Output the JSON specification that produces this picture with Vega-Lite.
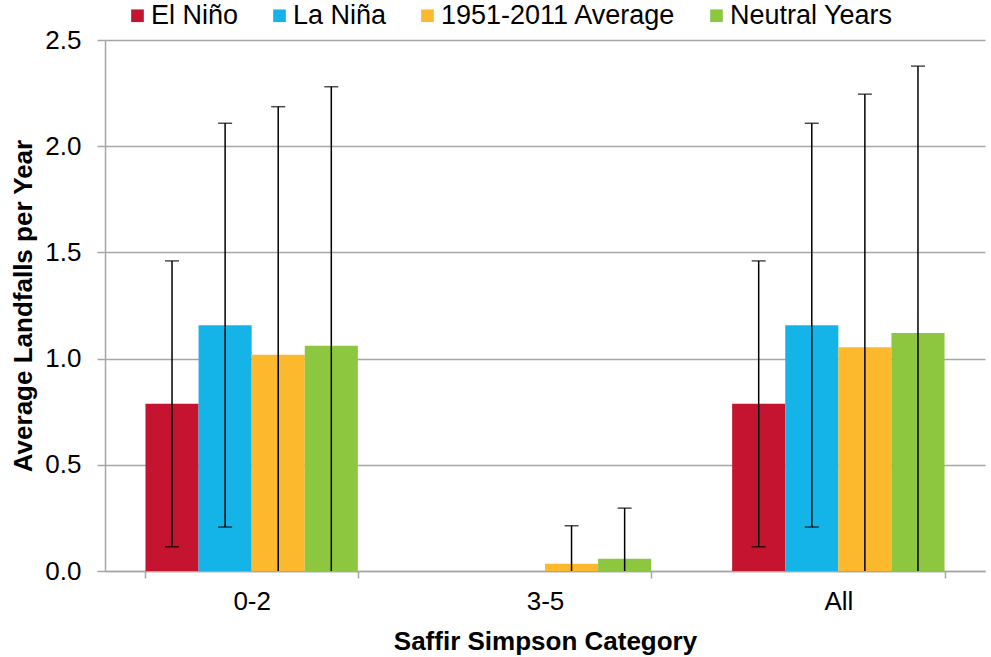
{
  "$schema": "https://vega.github.io/schema/vega-lite/v6.json",
  "width": 880,
  "height": 531,
  "autosize": "none",
  "padding": {"left": 105, "top": 40, "right": 6, "bottom": 86},
  "background": "white",
  "config": {
    "font": "Liberation Sans",
    "view": {"stroke": null},
    "axis": {"labelFont": "Liberation Sans", "titleFont": "Liberation Sans", "labelColor": "#000", "titleColor": "#000", "domainColor": "#A6A6A6", "tickColor": "#A6A6A6", "gridColor": "#A6A6A6", "domainWidth": 1.5, "tickWidth": 1.5, "gridWidth": 1.5}
  },
  "data": {"values": [
    {"cat": "0-2", "series": "El Niño", "value": 0.788, "lo": 0.114, "hi": 1.46},
    {"cat": "0-2", "series": "La Niña", "value": 1.157, "lo": 0.207, "hi": 2.108},
    {"cat": "0-2", "series": "1951-2011 Average", "value": 1.018, "lo": -0.15, "hi": 2.186},
    {"cat": "0-2", "series": "Neutral Years", "value": 1.06, "lo": -0.155, "hi": 2.28},
    {"cat": "3-5", "series": "El Niño", "value": 0, "lo": null, "hi": null},
    {"cat": "3-5", "series": "La Niña", "value": 0, "lo": null, "hi": null},
    {"cat": "3-5", "series": "1951-2011 Average", "value": 0.034, "lo": -0.145, "hi": 0.213},
    {"cat": "3-5", "series": "Neutral Years", "value": 0.058, "lo": -0.18, "hi": 0.296},
    {"cat": "All", "series": "El Niño", "value": 0.788, "lo": 0.114, "hi": 1.46},
    {"cat": "All", "series": "La Niña", "value": 1.157, "lo": 0.207, "hi": 2.108},
    {"cat": "All", "series": "1951-2011 Average", "value": 1.054, "lo": -0.14, "hi": 2.245},
    {"cat": "All", "series": "Neutral Years", "value": 1.12, "lo": -0.14, "hi": 2.377}
  ]},
  "encoding": {
    "x": {"field": "cat", "type": "nominal", "sort": ["0-2", "3-5", "All"],
      "scale": {"paddingInner": 0.276, "paddingOuter": 0.138},
      "axis": {"title": "Saffir Simpson Category", "labelAngle": 0, "labelFontSize": 26, "titleFontSize": 26, "titleFontWeight": "bold", "tickBand": "extent", "tickSize": 7, "labelPadding": 10, "titlePadding": 14, "grid": false}},
    "xOffset": {"field": "series", "type": "nominal", "sort": ["El Niño", "La Niña", "1951-2011 Average", "Neutral Years"], "scale": {"paddingInner": 0, "paddingOuter": 0}}
  },
  "layer": [
    {
      "mark": {"type": "bar"},
      "encoding": {
        "y": {"field": "value", "type": "quantitative",
          "scale": {"domain": [0, 2.5], "nice": false},
          "axis": {"title": "Average Landfalls per Year", "values": [0, 0.5, 1, 1.5, 2, 2.5], "format": ".1f", "labelFontSize": 26, "titleFontSize": 26, "titleFontWeight": "bold", "tickSize": 8, "labelPadding": 16, "titlePadding": 8, "grid": true}},
        "color": {"field": "series", "type": "nominal",
          "scale": {"domain": ["El Niño", "La Niña", "1951-2011 Average", "Neutral Years"], "range": ["#C41430", "#14B4E8", "#FDB92E", "#8DC63F"]},
          "legend": {"title": null, "orient": "none", "legendX": 19, "legendY": -38, "direction": "horizontal", "symbolType": "square", "symbolSize": 160, "symbolStrokeWidth": 0, "labelFontSize": 27, "labelFont": "Liberation Sans", "labelColor": "#000", "labelOffset": 0, "labelLimit": 400, "columnPadding": 27}}
      }
    },
    {
      "transform": [{"filter": "datum.hi != null"}],
      "mark": {"type": "rule", "color": "#000", "strokeWidth": 1.5, "clip": true},
      "encoding": {
        "y": {"field": "lo", "type": "quantitative"},
        "y2": {"field": "hi"}
      }
    },
    {
      "transform": [{"filter": "datum.hi != null"}],
      "mark": {"type": "tick", "color": "#000", "thickness": 1.5, "size": 14, "clip": true},
      "encoding": {"y": {"field": "hi", "type": "quantitative"}}
    },
    {
      "transform": [{"filter": "datum.hi != null"}],
      "mark": {"type": "tick", "color": "#000", "thickness": 1.5, "size": 14, "clip": true},
      "encoding": {"y": {"field": "lo", "type": "quantitative"}}
    }
  ]
}
